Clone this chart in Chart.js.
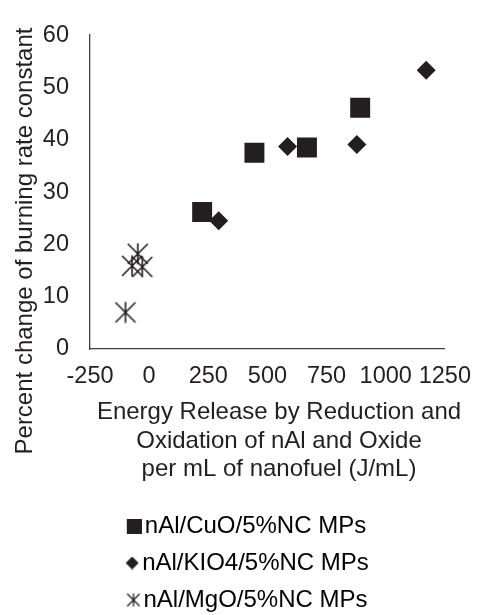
<!DOCTYPE html>
<html><head><meta charset="utf-8">
<script src="https://cdn.jsdelivr.net/npm/chart.js@4.4.0/dist/chart.umd.min.js"></script>
<style>html,body{margin:0;padding:0;background:#fff;} #c{display:block;}</style>
</head><body>
<canvas id="c" width="484" height="615"></canvas>
<script>
const seriesNames = ['nAl/CuO/5%NC MPs', 'nAl/KIO4/5%NC MPs', 'nAl/MgO/5%NC MPs'];
const cuoX = [224, 445, 667, 892];
const cuoY = [26.2, 37.5, 38.5, 46.1];
const kioX = [294, 585, 878, 1171];
const kioY = [24.5, 38.7, 39.1, 53.3];
const mgoX = [-100, -48, -72, -29];
const mgoY = [7.0, 18.2, 15.9, 15.7];
const xTicks = [-250, 0, 250, 500, 750, 1000, 1250];
const yTicks = [0, 10, 20, 30, 40, 50, 60];
const xTitle = ['Energy Release by Reduction and', 'Oxidation of nAl and Oxide', 'per mL of nanofuel (J/mL)'];
const yTitle = 'Percent change of burning rate constant';

const INK = '#231f20';
const FONT = '"Liberation Sans", Arial, sans-serif';

function pts(xs, ys) { return xs.map((x, i) => ({x: x, y: ys[i]})); }

function starCanvas(w, h, cx, r, lw) {
  const c = document.createElement('canvas');
  c.width = w; c.height = h;
  const g = c.getContext('2d');
  const m = h / 2;
  g.strokeStyle = INK; g.lineWidth = lw;
  g.beginPath();
  g.moveTo(cx - r, m - r); g.lineTo(cx + r, m + r);
  g.moveTo(cx + r, m - r); g.lineTo(cx - r, m + r);
  g.moveTo(cx, m - r * 1.05); g.lineTo(cx, m + r * 1.05);
  g.stroke();
  return c;
}
function squareCanvas(w, side, x0) {
  const c = document.createElement('canvas');
  c.width = w; c.height = side;
  const g = c.getContext('2d');
  g.fillStyle = INK; g.fillRect(x0, 0, side, side);
  return c;
}
function diamondCanvas(w, d, cx) {
  const c = document.createElement('canvas');
  c.width = w; c.height = d;
  const g = c.getContext('2d');
  const m = d / 2;
  g.fillStyle = INK;
  g.beginPath(); g.moveTo(cx, 0); g.lineTo(cx + m, m); g.lineTo(cx, d); g.lineTo(cx - m, m); g.closePath(); g.fill();
  return c;
}

const starData = starCanvas(24, 24, 12, 10, 1.6);
// legend marks: drawn offset to the right so the gap to the text is small
const legendMarks = [squareCanvas(33, 15, 18), diamondCanvas(33, 13, 26), starCanvas(33, 15, 26, 6.3, 1.3)];

const titlesPlugin = {
  id: 'axisTitlesDraw',
  afterDraw(chart) {
    const ctx = chart.ctx;
    ctx.save();
    ctx.font = '24px ' + FONT;
    ctx.fillStyle = INK;
    ctx.textAlign = 'center';
    // x-axis title, three lines
    ctx.textBaseline = 'alphabetic';
    const base = [419, 447.5, 476];
    xTitle.forEach((t, i) => ctx.fillText(t, 279, base[i]));
    // y-axis title, rotated
    ctx.translate(25, 241);
    ctx.rotate(-Math.PI / 2);
    ctx.textBaseline = 'middle';
    ctx.fillText(yTitle, 0, 0);
    ctx.restore();
  }
};

Chart.defaults.font.family = FONT;
Chart.defaults.color = INK;

new Chart(document.getElementById('c'), {
  type: 'scatter',
  data: {
    datasets: [
      {label: seriesNames[0], data: pts(cuoX, cuoY), pointStyle: 'rect', pointRadius: 14.1,
       backgroundColor: INK, borderWidth: 0, pointHoverRadius: 14.1},
      {label: seriesNames[1], data: pts(kioX, kioY), pointStyle: 'rectRot', pointRadius: 9.5,
       backgroundColor: INK, borderWidth: 0, pointHoverRadius: 9.5},
      {label: seriesNames[2], data: pts(mgoX, mgoY), pointStyle: starData, pointRadius: 10,
       backgroundColor: INK, borderColor: INK, borderWidth: 0}
    ]
  },
  plugins: [titlesPlugin],
  options: {
    responsive: false,
    animation: false,
    devicePixelRatio: 1,
    layout: {padding: {top: 22, right: 28, bottom: -7, left: 28}},
    plugins: {
      tooltip: {enabled: false},
      legend: {
        position: 'bottom',
        labels: {
          usePointStyle: true, boxWidth: 15, boxHeight: 15, padding: 13,
          font: {size: 24}, color: INK,
          generateLabels: chart => chart.data.datasets.map((ds, i) => ({
            text: ds.label, fillStyle: INK, strokeStyle: INK, lineWidth: 0,
            pointStyle: legendMarks[i], hidden: false, datasetIndex: i
          }))
        }
      }
    },
    scales: {
      x: {
        type: 'linear', min: xTicks[0], max: xTicks[xTicks.length - 1],
        afterBuildTicks: s => { s.ticks = xTicks.map(v => ({value: v})); },
        afterFit: s => { s.height = 152; },
        grid: {display: false, drawTicks: false},
        border: {display: true, color: '#404040', width: 1.3},
        ticks: {font: {size: 23.5}, color: INK, padding: 13, maxRotation: 0, autoSkip: false,
                callback: v => String(v)},
        title: {display: false}
      },
      y: {
        type: 'linear', min: yTicks[0], max: yTicks[yTicks.length - 1],
        afterBuildTicks: s => { s.ticks = yTicks.map(v => ({value: v})); },
        afterFit: s => { s.width = 62; },
        grid: {display: false, drawTicks: false},
        border: {display: true, color: '#404040', width: 1.3},
        ticks: {font: {size: 23.5}, color: INK, padding: 21, autoSkip: false, callback: v => String(v)},
        title: {display: false}
      }
    }
  }
});
</script>
</body></html>
